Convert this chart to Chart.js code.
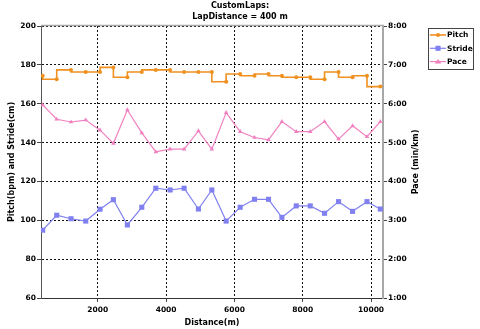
<!DOCTYPE html>
<html><head><meta charset="utf-8">
<script src="https://cdn.jsdelivr.net/npm/chart.js@4.4.0/dist/chart.umd.min.js"></script>
<style>html,body{margin:0;padding:0;background:#fff;}#wrap{width:480px;height:329px;}</style>
</head><body><div id="wrap"><canvas id="c" width="480" height="329"></canvas></div>
<script>
// ---- data ----
const distances = [387,797,1216,1647,2066,2456,2866,3288,3698,4117,4527,4946,5339,5758,6168,6588,6998,7390,7810,8220,8639,9049,9459,9881,10271];
const pitch  = [174.4,172.6,177.4,176.3,176.3,178.7,173.6,176.3,177.4,177.4,176.3,176.3,176.3,171.3,175.3,174.4,175.3,174.4,173.6,173.6,172.6,176.3,173.6,174.4,168.8];
const stride = [94.9,102.6,100.8,99.6,105.7,110.6,97.6,106.7,116.5,115.6,116.5,105.8,115.6,99.6,106.7,110.8,110.8,101.5,107.4,107.4,103.6,109.6,104.6,109.6,105.8];
const pace   = [5.97,5.60,5.53,5.58,5.32,4.98,5.84,5.25,4.76,4.83,4.83,5.30,4.83,5.77,5.28,5.13,5.07,5.54,5.28,5.28,5.54,5.09,5.43,5.15,5.54];
const xTicks = [2000,4000,6000,8000,10000];
const leftTicks = [60,80,100,120,140,160,180,200];
const paceTicks = [1,2,3,4,5,6,7,8];
const titleLines = ['CustomLaps:','LapDistance = 400 m'];
const xTitle = 'Distance(m)';
const yTitle = 'Pitch(bpm) and Stride(cm)';
const y2Title = 'Pace (min/km)';
const seriesNames = ['Pitch','Stride','Pace'];

const FAM = "'DejaVu Sans', Verdana, sans-serif";
const F8 = {family: FAM, size: 8, weight: 'bold'};
const FT = {family: FAM, size: 7.5, weight: 'bold'};
const C_PITCH = '#F0901E', C_STRIDE = '#8080F0', C_PACE = '#F080C0';

function marker(ctx, style, x, y, r, color) {
  ctx.fillStyle = color;
  ctx.beginPath();
  if (style === 'circle') { ctx.arc(x, y, r, 0, Math.PI * 2); }
  else if (style === 'rect') { const s = Math.SQRT1_2 * r; ctx.rect(x - s, y - s, 2 * s, 2 * s); }
  else { const w = r * 1.3; ctx.moveTo(x, y - r); ctx.lineTo(x + w, y + r * 0.75); ctx.lineTo(x - w, y + r * 0.75); ctx.closePath(); }
  ctx.fill();
}

const framePlugin = {
  id: 'frame',
  afterDraw(chart) {
    const {ctx, chartArea: a} = chart;
    ctx.save();
    ctx.strokeStyle = '#a8a8a8'; ctx.lineWidth = 1.5;
    ctx.beginPath(); ctx.moveTo(a.left, a.top - 0.5); ctx.lineTo(a.right + 1, a.top - 0.5); ctx.stroke();
    // right axis title (reads bottom-to-top)
    ctx.fillStyle = '#000';
    ctx.font = 'bold 8px ' + FAM;
    ctx.textAlign = 'center'; ctx.textBaseline = 'middle';
    ctx.translate(416, (a.top + a.bottom) / 2);
    ctx.rotate(-Math.PI / 2);
    ctx.fillText(y2Title, 0, 0);
    ctx.restore();
    // legend box
    ctx.save();
    const x0 = 428.5, y0 = 28.5, w = 45, h = 41;
    ctx.fillStyle = '#fff'; ctx.fillRect(x0, y0, w, h);
    ctx.strokeStyle = '#444'; ctx.lineWidth = 1; ctx.strokeRect(x0, y0, w, h);
    chart.data.datasets.forEach((ds, i) => {
      const cy = 35 + i * 13.3;
      ctx.strokeStyle = ds.borderColor; ctx.lineWidth = ds.borderWidth;
      ctx.beginPath(); ctx.moveTo(430, cy); ctx.lineTo(446, cy); ctx.stroke();
      marker(ctx, ds.pointStyle, 438, cy, ds.pointRadius, ds.borderColor);
      ctx.fillStyle = '#000'; ctx.font = 'bold 7.5px ' + FAM;
      ctx.textAlign = 'left'; ctx.textBaseline = 'middle';
      ctx.fillText(ds.label, 447, cy + 0.5);
    });
    ctx.restore();
  }
};

const gridCommon = {color: '#111', lineWidth: 1, tickLength: 4, tickColor: '#444', tickWidth: 1};

new Chart(document.getElementById('c'), {
  type: 'line',
  data: {
    datasets: [
      {label: seriesNames[0], data: distances.map((d, i) => ({x: d, y: pitch[i]})), yAxisID: 'y',
       borderColor: C_PITCH, backgroundColor: C_PITCH, borderWidth: 1.6, stepped: 'after',
       pointStyle: 'circle', pointRadius: 2, pointBorderWidth: 0, pointHoverRadius: 2},
      {label: seriesNames[1], data: distances.map((d, i) => ({x: d, y: stride[i]})), yAxisID: 'y',
       borderColor: C_STRIDE, backgroundColor: C_STRIDE, borderWidth: 1.2,
       pointStyle: 'rect', pointRadius: 3.6, pointBorderWidth: 0, pointHoverRadius: 3.6},
      {label: seriesNames[2], data: distances.map((d, i) => ({x: d, y: pace[i]})), yAxisID: 'y2',
       borderColor: C_PACE, backgroundColor: C_PACE, borderWidth: 1.2,
       pointStyle: 'triangle', pointRadius: 2.6, pointBorderWidth: 0, pointHoverRadius: 2.6}
    ]
  },
  options: {
    responsive: false, animation: false, devicePixelRatio: 1,
    layout: {padding: 0},
    plugins: {
      legend: {display: false}, tooltip: {enabled: false},
      title: {display: true, text: titleLines, color: '#000', font: {...F8, lineHeight: 1.34}, padding: {top: 1, bottom: 3.56}}
    },
    scales: {
      x: {type: 'linear', min: 337, max: 10350,
        afterBuildTicks: s => { s.ticks = xTicks.map(v => ({value: v})); },
        afterFit: s => { s.height = 31; },
        grid: gridCommon, border: {dash: [2, 2], color: '#333', width: 1},
        ticks: {font: FT, color: '#000', padding: 4, maxRotation: 0, autoSkip: false, callback: v => String(v)},
        title: {display: true, text: xTitle, color: '#000', font: F8, padding: {top: 0, bottom: 1}}
      },
      y: {position: 'left', min: 60, max: 200,
        afterBuildTicks: s => { s.ticks = leftTicks.map(v => ({value: v})); },
        afterFit: s => { s.width = 41; },
        grid: gridCommon, border: {dash: [2, 2], color: '#555', width: 1},
        ticks: {font: FT, color: '#000', padding: 1, autoSkip: false, callback: v => String(v)},
        title: {display: true, text: yTitle, color: '#000', font: F8, padding: {top: 7, bottom: 0}}
      },
      y2: {position: 'right', min: 1, max: 8,
        afterBuildTicks: s => { s.ticks = paceTicks.map(v => ({value: v})); },
        afterFit: s => { s.width = 97; },
        grid: {...gridCommon, drawOnChartArea: false}, border: {color: '#a8a8a8', width: 2},
        ticks: {font: FT, color: '#000', padding: 1, autoSkip: false, callback: v => v + ':00'}
      }
    }
  },
  plugins: [framePlugin]
});
</script></body></html>
